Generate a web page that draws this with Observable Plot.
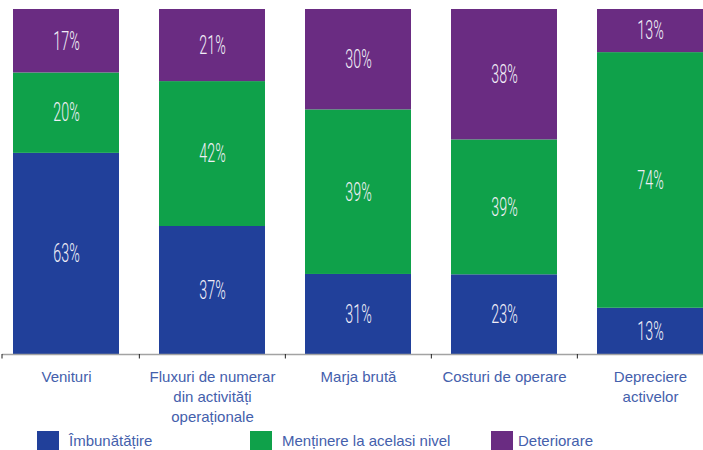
<!DOCTYPE html>
<html>
<head>
<meta charset="utf-8">
<script src="https://cdn.jsdelivr.net/npm/d3@7"></script>
<script src="https://cdn.jsdelivr.net/npm/@observablehq/plot@0.6"></script>
<style>
  html, body { margin: 0; padding: 0; background: #fff; }
  #wrap { position: relative; width: 703px; height: 450px; overflow: hidden; }
  #legend { position: absolute; left: 0; top: 431px; width: 703px; height: 19px;
            font-family: "Liberation Sans", Arial, sans-serif; font-size: 15px; color: #4460ac; }
  .item { position: absolute; top: 0; height: 19px; }
  .sw { position: absolute; left: 0; top: 0; width: 22px; height: 19px; }
  .lab { position: absolute; top: 0px; line-height: 19px; white-space: nowrap; }
</style>
</head>
<body>
<div id="wrap">
  <div id="chart"></div>
  <div id="legend"></div>
</div>
<script>
// ---- data ----
const categories = ["Venituri", "Fluxuri de numerar\ndin activități\noperaționale", "Marja brută", "Costuri de operare", "Depreciere\nactivelor"];
const seriesNames = ["Îmbunătățire", "Menținere la acelasi nivel", "Deteriorare"];
const seriesColors = ["#21409a", "#0fa14a", "#6a2c82"];
// bar heights as drawn (share of full column, %)
const improve  = [58.3, 37.1, 23.2, 23.1, 13.4];
const maintain = [23.3, 42.0, 47.7, 39.1, 74.1];
const worsen   = [18.4, 20.9, 29.1, 37.8, 12.5];
// printed labels
const improveLabels  = ["63%", "37%", "31%", "23%", "13%"];
const maintainLabels = ["20%", "42%", "39%", "39%", "74%"];
const worsenLabels   = ["17%", "21%", "30%", "38%", "13%"];

// ---- table ----
const values = [improve, maintain, worsen];
const labels = [improveLabels, maintainLabels, worsenLabels];
const rows = [];
categories.forEach((cat, i) => {
  let base = 0;
  seriesNames.forEach((s, k) => {
    const v = values[k][i];
    rows.push({cat, series: s, y1: base, y2: base + v, mid: base + v / 2, label: labels[k][i]});
    base += v;
  });
});

const W = 703, H = 428;
const step = 146.3, c0 = 65;
const pInner = 1 - 106 / step;
const rangeStart = c0 - step / 2;
const rangeEnd = rangeStart + step * categories.length;

const chart = Plot.plot({
  width: W,
  height: H,
  marginTop: 9,
  marginBottom: H - 354,
  marginLeft: 2,
  marginRight: 0,
  style: {fontFamily: "Liberation Sans, Arial, sans-serif", background: "#fff", overflow: "visible"},
  x: {domain: categories, range: [rangeStart, rangeEnd], paddingInner: pInner, paddingOuter: pInner / 2, axis: null},
  y: {domain: [0, 100], axis: null},
  color: {domain: seriesNames, range: seriesColors},
  marks: [
    Plot.barY(rows, {x: "cat", y1: "y1", y2: "y2", fill: "series", inset: 0}),
    Plot.text(rows, {x: "cat", y: "mid", text: "label", fill: "#f1eef7", fontSize: 26,
      fontFamily: "Roboto, sans-serif", fontWeight: 300}),
    Plot.ruleY([0], {stroke: "#a3a3a3", strokeWidth: 1.5}),
    Plot.ruleX(categories.slice(1), {x: d => d, dx: -step / 2, y1: 0, y2: -1.3, stroke: "#222", strokeWidth: 1}),
    Plot.axisX({tickSize: 0, tickPadding: 13, fontSize: 15, fill: "#4460ac", lineHeight: 1.33, textAnchor: "middle", label: null})
  ]
});

// condense the segment labels horizontally
const segTexts = Array.from(chart.querySelectorAll('g[aria-label="text"] text')).filter(t => /%$/.test(t.textContent));
segTexts.forEach(t => {
  const sx = 0.55;
  const tr = t.getAttribute("transform");
  if (tr) {
    t.setAttribute("transform", tr + ` scale(${sx},1)`);
  } else {
    const x = +t.getAttribute("x") || 0;
    const y = t.getAttribute("y");
    t.removeAttribute("x");
    t.removeAttribute("y");
    t.setAttribute("transform", `translate(${x},${y}) scale(${sx},1)`);
  }
});
// tick at the start of the axis line
const axisLine = chart.querySelector('g[aria-label="rule"] line');
if (axisLine) {
  const x1 = +axisLine.getAttribute("x1");
  const y = +axisLine.getAttribute("y1") || +axisLine.getAttribute("y");
  const ns = "http://www.w3.org/2000/svg";
  const tk = document.createElementNS(ns, "line");
  const yy = isNaN(y) || !y ? 354 : y;
  tk.setAttribute("x1", x1); tk.setAttribute("x2", x1);
  tk.setAttribute("y1", yy); tk.setAttribute("y2", yy + 4.5);
  tk.setAttribute("stroke", "#222");
  chart.appendChild(tk);
}
document.getElementById("chart").appendChild(chart);

// legend
const legendLeft = [37, 250, 491];
const legend = document.getElementById("legend");
seriesNames.forEach((s, k) => {
  const it = document.createElement("div");
  it.className = "item";
  it.style.left = legendLeft[k] + "px";
  it.innerHTML = `<div class="sw" style="background:${seriesColors[k]}"></div><div class="lab" style="left:${k === 2 ? 27 : 32}px">${s}</div>`;
  legend.appendChild(it);
});
</script>
</body>
</html>
